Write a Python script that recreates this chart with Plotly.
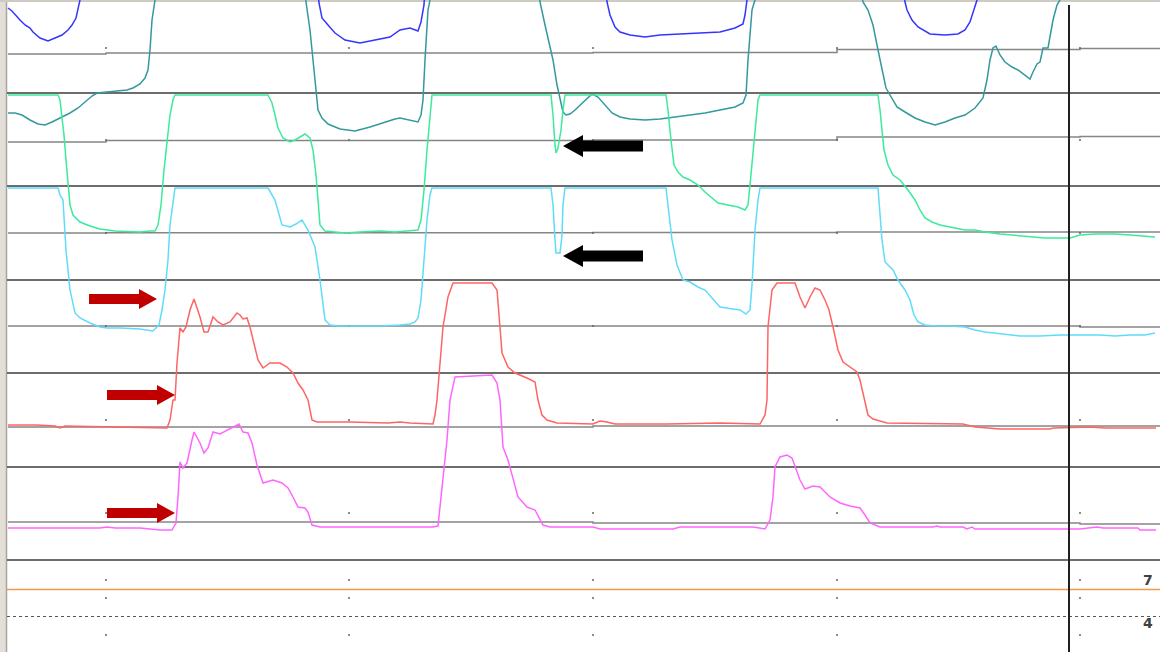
import plotly.graph_objects as go

# ---------------- data (time index, signal level in chart units) ----------------
blue_x = [8, 12, 20, 25, 30, 33, 40, 48, 55, 62, 68, 72, 76, 78, 80, 82,
          316, 319, 322, 328, 335, 345, 360, 375, 390, 400, 410, 418, 421, 424, 426,
          604, 607, 610, 615, 620, 630, 645, 660, 680, 700, 720, 735, 743, 745, 747, 749,
          902, 905, 907, 912, 918, 930, 945, 958, 965, 970, 973, 977, 980]
blue_y = [8, 11, 20, 25, 28, 32, 38, 41, 38, 35, 30, 25, 18, 10, 0, -30,
          -30, 3, 18, 25, 33, 40, 43, 40, 37, 30, 28, 31, 22, 5, -30,
          -30, 2, 15, 27, 32, 35, 37, 35, 34, 33, 32, 28, 24, 15, 0, -30,
          -30, 2, 10, 20, 27, 34, 35, 34, 30, 22, 12, 0, -30]

teal_x = [8, 15, 22, 30, 38, 45, 52, 60, 65, 70, 78, 85, 92, 97, 105, 115, 127, 133, 140, 145, 148, 150, 152, 155, 157,
          303, 306, 310, 313, 316, 318, 322, 328, 340, 355, 370, 385, 395, 400, 410, 418, 421, 423, 425, 427, 428, 430, 432,
          537, 540, 545, 550, 553, 557, 560, 563, 566, 570, 575, 585, 592, 598, 605, 612, 620, 630, 645, 660, 675, 690, 705,
          720, 735, 743, 746, 748, 750, 752, 755, 757,
          860, 863, 868, 873, 878, 882, 886, 890, 897, 905, 915, 925, 935, 945, 955, 965, 975, 983, 987, 990, 993, 996,
          1000, 1005, 1012, 1018, 1025, 1030, 1033, 1037, 1040, 1043, 1048, 1050, 1053, 1057, 1060, 1062]
teal_y = [113, 113, 115, 120, 124, 125, 122, 118, 116, 113, 108, 102, 96, 93, 92, 91, 90, 88, 84, 78, 70, 50, 20, 0, -30,
          -30, 2, 30, 60, 90, 110, 118, 124, 129, 131, 127, 122, 119, 118, 120, 122, 115, 100, 60, 30, 10, 0, -30,
          -30, 2, 25, 45, 60, 85, 100, 112, 115, 114, 110, 100, 94, 97, 105, 113, 117, 119, 120, 119, 117, 115, 113,
          110, 107, 103, 95, 60, 30, 10, 0, -30,
          -30, 2, 10, 25, 50, 70, 88, 95, 107, 112, 118, 122, 125, 122, 118, 115, 108, 98, 80, 60, 48, 46,
          55, 62, 67, 70, 75, 79, 72, 64, 62, 48, 48, 35, 20, 5, 0, -30]

green_x = [8, 58, 60, 62, 64, 66, 68, 70, 73, 80, 90, 100, 115, 130, 140, 150, 155, 158, 161, 164, 167, 170, 173, 175,
           268, 272, 275, 278, 283, 290, 295, 300, 305, 310, 313, 316, 318, 320, 325, 335, 345, 360, 380, 395, 410, 418,
           421, 424, 427, 430, 432, 551, 553, 555, 556, 558, 561, 563, 565,
           666, 668, 671, 674, 678, 683, 690, 698, 705, 712, 718, 728, 738, 745, 748, 750, 753, 756, 758, 760,
           878, 880, 882, 884, 888, 893, 900, 908, 915, 920, 925, 932, 940, 955, 965, 975, 985, 1000, 1020, 1045,
           1070, 1080, 1095, 1115, 1130, 1155]
green_y = [95, 95, 100, 115, 135, 160, 185, 205, 215, 222, 226, 229, 231, 232, 232, 231, 231, 225, 205, 170, 140, 115, 100, 95,
           95, 103, 115, 128, 138, 142, 140, 137, 134, 138, 150, 175, 200, 225, 231, 232, 233, 232, 231, 232, 231, 230,
           220, 190, 150, 115, 95, 95, 115, 145, 153, 148, 130, 110, 95,
           95, 110, 140, 165, 172, 177, 180, 185, 192, 198, 203, 205, 207, 210, 205, 185, 150, 115, 100, 95,
           95, 110, 130, 150, 165, 175, 180, 190, 200, 210, 218, 222, 225, 228, 230, 230, 232, 234, 236, 238,
           238, 235, 234, 234, 235, 237]

cyan_x = [8, 58, 60, 63, 66, 70, 75, 80, 90, 100, 107, 120, 140, 153, 159, 162, 165, 168, 170, 173, 175,
          268, 275, 282, 290, 296, 302, 308, 315, 320, 325, 330, 340, 360, 380, 400, 410, 415, 418, 421, 424, 427, 430, 432,
          551, 553, 555, 556, 560, 562, 563, 565,
          666, 668, 672, 677, 683, 690, 698, 705, 712, 720, 733, 740, 746, 750, 752, 755, 758, 760,
          878, 880, 882, 885, 893, 898, 905, 910, 914, 918, 925, 935, 950, 965, 975, 985, 1000, 1020, 1040, 1060,
          1080, 1100, 1115, 1130, 1145, 1155]
cyan_y = [188, 188, 195, 200, 250, 290, 313, 318, 323, 327, 328, 328, 329, 331, 325, 310, 290, 260, 225, 200, 188,
          188, 200, 225, 227, 224, 220, 230, 247, 280, 320, 325, 326, 326, 326, 325, 324, 322, 318, 300, 260, 220, 195, 188,
          188, 205, 240, 253, 253, 235, 205, 188,
          188, 205, 240, 265, 280, 282, 287, 290, 298, 307, 309, 310, 314, 310, 285, 230, 200, 188,
          188, 210, 240, 262, 270, 280, 290, 300, 315, 322, 325, 326, 326, 327, 330, 332, 334, 336, 336, 335,
          335, 335, 336, 335, 335, 333]

red_x = [8, 37, 55, 60, 65, 145, 167, 170, 173, 175, 177, 180, 183, 186, 190, 194, 200, 204, 208, 213, 218, 223, 230,
         237, 240, 243, 247, 250, 255, 258, 263, 270, 280, 287, 293, 298, 303, 307, 308, 312, 317, 350, 388, 400, 410,
         433, 435, 437, 443, 448, 453, 492, 497, 500, 502, 508, 515, 527, 535, 538, 542, 547, 557, 593, 600, 607, 615,
         667, 720, 760, 765, 767, 768, 772, 777, 795, 800, 805, 810, 815, 820, 825, 829, 833, 838, 843, 850, 857, 860,
         865, 868, 873, 887, 963, 975, 1000, 1050, 1053, 1090, 1105, 1156]
red_y = [425, 425, 426, 428, 426, 428, 428, 420, 400, 400, 363, 328, 332, 327, 310, 299, 317, 332, 332, 317, 322, 325, 322,
         313, 315, 319, 318, 327, 347, 360, 368, 363, 363, 367, 373, 383, 390, 398, 400, 420, 422, 422, 423, 422, 423,
         424, 415, 400, 327, 297, 283, 283, 290, 327, 353, 367, 373, 378, 382, 400, 415, 420, 423, 424, 421, 422, 424,
         424, 423, 424, 415, 400, 327, 290, 283, 283, 297, 308, 297, 288, 290, 300, 310, 327, 350, 362, 367, 372, 380,
         400, 415, 419, 423, 424, 427, 429, 429, 428, 427, 428, 428]

mag_x = [8, 100, 107, 115, 140, 160, 172, 176, 178, 180, 183, 187, 192, 194, 200, 204, 208, 213, 220, 230, 239, 243, 248,
         252, 257, 263, 273, 282, 288, 293, 298, 305, 308, 312, 320, 400, 433, 438, 442, 447, 450, 455, 492, 497, 500,
         503, 508, 513, 518, 527, 535, 543, 550, 593, 600, 673, 680, 753, 765, 770, 773, 775, 780, 787, 792, 800, 805,
         813, 820, 830, 840, 850, 860, 865, 870, 880, 933, 937, 940, 963, 967, 972, 975, 1080, 1097, 1103, 1138, 1140, 1156]
mag_y = [528, 528, 527, 528, 528, 530, 530, 523, 497, 462, 468, 463, 440, 432, 443, 453, 448, 432, 434, 429, 424, 432, 433,
         443, 465, 483, 480, 483, 488, 497, 507, 508, 512, 525, 527, 527, 527, 526, 487, 440, 400, 377, 375, 383, 400,
         447, 460, 480, 497, 507, 510, 525, 527, 527, 529, 529, 527, 527, 529, 520, 497, 467, 457, 455, 458, 480, 489,
         486, 487, 497, 503, 506, 508, 515, 523, 527, 527, 526, 527, 527, 529, 527, 529, 529, 527, 528, 528, 530, 530]

right_labels = ["7", "4"]

# ---------------- styling / layout constants ----------------
W, H = 1160, 652
sep_levels = [93, 186, 280, 373, 467, 560]
ref_lines = [  # (x breakpoints, levels) for drifting baselines
    ([8, 106, 593, 837, 1080, 1160], [54, 53, 52.5, 49.5, 48.5]),
    ([8, 106, 593, 837, 1080, 1160], [142, 140.5, 140, 137, 136.5]),
    ([8, 106, 593, 837, 1080, 1160], [233, 232.7, 232.5, 232, 232]),
    ([8, 106, 593, 837, 1080, 1160], [326, 326, 326, 326, 327]),
    ([8, 106, 593, 837, 1080, 1160], [427, 427, 426, 426, 426]),
    ([8, 106, 593, 837, 1080, 1160], [522, 522, 523, 523, 524]),
]
dot_x = [106, 349, 593, 837, 1080]
dot_y = [48, 140, 233, 326, 420, 513, 580, 598, 635]

fig = go.Figure()

shapes = []
# left frame and top border
shapes.append(dict(type="rect", x0=0, x1=6, y0=0, y1=H, fillcolor="#E2DFD8", line=dict(width=0), layer="below"))
shapes.append(dict(type="line", x0=6.5, x1=6.5, y0=0, y1=H, line=dict(color="#A8A59E", width=1.5), layer="below"))
shapes.append(dict(type="line", x0=0, x1=W, y0=1, y1=1, line=dict(color="#CFCBC3", width=2), layer="below"))

for lv in sep_levels:
    shapes.append(dict(type="line", x0=7, x1=W, y0=lv, y1=lv, line=dict(color="#3C3C3C", width=1.6), layer="below"))
for xs, lvls in ref_lines:
    p = f"M {xs[0]},{lvls[0]}"
    for i, lv in enumerate(lvls):
        p += f" L {xs[i]},{lv} L {xs[i+1]},{lv}"
    shapes.append(dict(type="path", path=p, line=dict(color="#858585", width=1.5), layer="below"))

shapes.append(dict(type="line", x0=7, x1=W, y0=589.5, y1=589.5, line=dict(color="#F2994A", width=1.3), layer="below"))
shapes.append(dict(type="line", x0=7, x1=W, y0=616.5, y1=616.5, line=dict(color="#555555", width=1, dash="dot"), layer="below"))

# dot grid
gx, gy = [], []
for xx in dot_x:
    for yy in dot_y:
        gx.append(xx)
        gy.append(yy)
fig.add_trace(go.Scatter(x=gx, y=gy, mode="markers", marker=dict(size=2, color="#666666"), hoverinfo="skip"))

series = [
    (blue_x, blue_y, "#3535FF"),
    (teal_x, teal_y, "#33999C"),
    (green_x, green_y, "#3BEA9A"),
    (cyan_x, cyan_y, "#5EDCFA"),
    (red_x, red_y, "#FF6464"),
    (mag_x, mag_y, "#FF66FF"),
]
for xs, ys, c in series:
    fig.add_trace(go.Scatter(x=xs, y=ys, mode="lines", line=dict(color=c, width=1.5), hoverinfo="skip"))

# vertical cursor
shapes.append(dict(type="line", x0=1069, x1=1069, y0=5, y1=H, line=dict(color="#202020", width=2), layer="above"))

# arrows (annotation glyphs)
def right_arrow(x0, yc, color):
    return dict(type="path", fillcolor=color, line=dict(width=0), layer="above",
                path=(f"M {x0},{yc-5} L {x0+50},{yc-5} L {x0+50},{yc-10} L {x0+68},{yc} "
                      f"L {x0+50},{yc+10} L {x0+50},{yc+5} L {x0},{yc+5} Z"))

def left_arrow(xt, yc, color):
    return dict(type="path", fillcolor=color, line=dict(width=0), layer="above",
                path=(f"M {xt},{yc} L {xt+20},{yc-11} L {xt+20},{yc-5.5} L {xt+80},{yc-5.5} "
                      f"L {xt+80},{yc+5.5} L {xt+20},{yc+5.5} L {xt+20},{yc+11} Z"))

for x0, yc in [(89, 299), (107, 395), (107, 513)]:
    shapes.append(right_arrow(x0, yc, "#C00000"))
for xt, yc in [(563, 146), (563, 256)]:
    shapes.append(left_arrow(xt, yc, "#000000"))

annotations = []
for txt, yy in zip(right_labels, [580, 623]):
    annotations.append(dict(x=1148, y=yy, text=f"<b>{txt}</b>", showarrow=False, xanchor="center", yanchor="middle",
                            font=dict(family="DejaVu Sans", size=14, color="#404040")))

fig.update_layout(
    width=W, height=H, margin=dict(l=0, r=0, t=0, b=0),
    paper_bgcolor="white", plot_bgcolor="white", showlegend=False,
    xaxis=dict(range=[0, W], visible=False, fixedrange=True),
    yaxis=dict(range=[H, 0], visible=False, fixedrange=True),
    shapes=shapes, annotations=annotations,
)
fig.write_html("out.html", config={"displayModeBar": False})
